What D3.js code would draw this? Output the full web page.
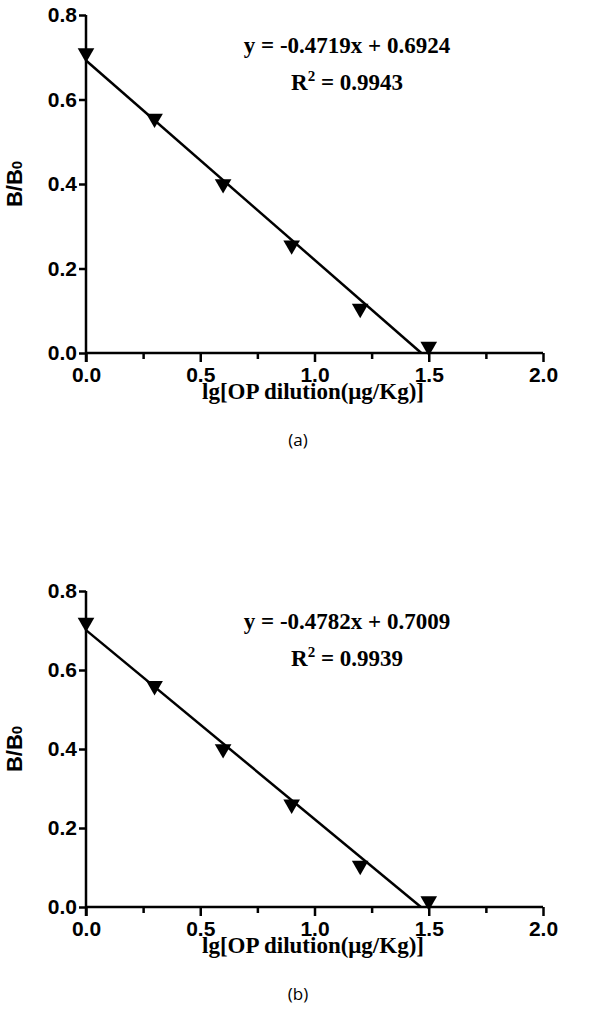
<!DOCTYPE html>
<html>
<head>
<meta charset="utf-8">
<script src="https://cdn.jsdelivr.net/npm/d3@7"></script>
<style>
  body { margin: 0; background: #fff; }
  .tick text { font-family: "Liberation Sans", Arial, sans-serif; font-weight: bold; font-size: 21px; fill: #000; }
  .eq { font-family: "Liberation Serif", "Times New Roman", serif; font-weight: bold; font-size: 23px; }
</style>
</head>
<body>
<div id="chart"></div>
<script>
// data
var xValues = [0, 0.3, 0.6, 0.9, 1.2, 1.5];
var yValuesA = [0.71, 0.555, 0.40, 0.255, 0.105, 0.015];
var yValuesB = [0.72, 0.56, 0.40, 0.26, 0.105, 0.015];
var fitsA = { slope: -0.4719, intercept: 0.6924 };
var fitsB = { slope: -0.4782, intercept: 0.7009 };
var eqLabels = ["y = -0.4719x + 0.6924", "y = -0.4782x + 0.7009"];
var r2Labels = ["0.9943", "0.9939"];
var captions = ["(a)", "(b)"];
var xTicks = [0, 0.5, 1.0, 1.5, 2.0];
var xMinor = [0.25, 0.75, 1.25, 1.75];
var yTicks = [0, 0.2, 0.4, 0.6, 0.8];

var svg = d3.select("#chart").append("svg")
    .attr("width", 600).attr("height", 1011);

function drawPanel(i, top, bottom, yVals, fit) {
    var x = d3.scaleLinear().domain([0, 2]).range([86, 543]);
    var y = d3.scaleLinear().domain([0, 0.8]).range([bottom, top]);
    var g = svg.append("g");

    //axes
    g.append("g").attr("transform", `translate(0,${bottom})`)
        .call(d3.axisBottom(x).tickValues(xTicks).tickFormat(d3.format(".1f")).tickSize(9).tickPadding(5))
        .call(a => a.select(".domain").attr("stroke-width", 2.5).attr("d", `M${x(0)},0H${x(2)}`));
    g.append("g").attr("transform", `translate(0,${bottom})`)
        .call(d3.axisBottom(x).tickValues(xMinor).tickFormat("").tickSize(6))
        .call(a => a.select(".domain").remove());
    g.append("g").attr("transform", `translate(${x(0)},0)`)
        .call(d3.axisLeft(y).tickValues(yTicks).tickFormat(d3.format(".1f")).tickSize(7).tickPadding(2))
        .call(a => a.select(".domain").attr("stroke-width", 2.5).attr("d", `M0,${y(0.8)}V${y(0) + 9}`));
    g.selectAll(".tick line").attr("stroke-width", 2.5).attr("stroke", "#000");

    //fit line
    var xEnd = -fit.intercept / fit.slope;
    g.append("line")
        .attr("x1", x(0)).attr("y1", y(fit.intercept))
        .attr("x2", x(xEnd)).attr("y2", y(0))
        .attr("stroke", "#000").attr("stroke-width", 2.5);

    //markers
    g.selectAll("path.pt").data(xValues).enter().append("path")
        .attr("class", "pt")
        .attr("d", d3.symbol().type(d3.symbolTriangle).size(120))
        .attr("transform", (d, k) => `translate(${x(d)},${y(yVals[k])}) rotate(180)`)
        .attr("fill", "#000");

    //equation text
    g.append("text").attr("class", "eq").attr("x", 347).attr("y", top + 38)
        .attr("text-anchor", "middle").text(eqLabels[i]);
    var r = g.append("text").attr("class", "eq").attr("x", 347).attr("y", top + 75)
        .attr("text-anchor", "middle");
    r.append("tspan").text("R");
    r.append("tspan").attr("dy", -9).attr("font-size", 15).text("2");
    r.append("tspan").attr("dy", 9).text(" = " + r2Labels[i]);

    //axis titles
    g.append("text").attr("class", "eq").attr("x", 313).attr("y", bottom + 46)
        .attr("text-anchor", "middle").attr("font-size", 23).text("lg[OP dilution(μg/Kg)]");
    var yt = g.append("text")
        .attr("transform", `translate(22,${(top + bottom) / 2}) rotate(-90)`)
        .attr("text-anchor", "middle")
        .style("font-family", "Liberation Sans, Arial, sans-serif")
        .style("font-weight", "bold").style("font-size", "22px");
    yt.append("tspan").text("B/B");
    yt.append("tspan").attr("font-size", 15).text("0");

    g.append("text").attr("x", 298).attr("y", bottom + 93)
        .attr("text-anchor", "middle")
        .style("font-family", "Open Sans, sans-serif").style("font-size", "17px")
        .text(captions[i]);
}

drawPanel(0, 15, 353, yValuesA, fitsA);
drawPanel(1, 591, 907, yValuesB, fitsB);
</script>
</body>
</html>
